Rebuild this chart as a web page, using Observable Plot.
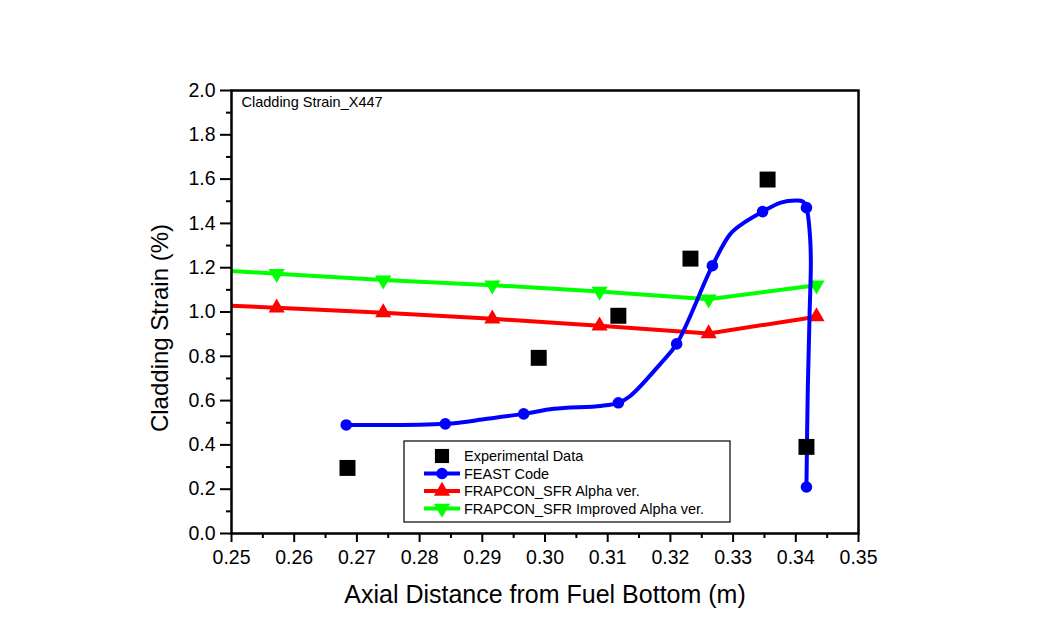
<!DOCTYPE html>
<html>
<head>
<meta charset="utf-8">
<script src="https://cdn.jsdelivr.net/npm/d3@7"></script>
<script src="https://cdn.jsdelivr.net/npm/@observablehq/plot@0.6"></script>
<style>
  html, body { margin: 0; padding: 0; background: #fff; }
  #chart { position: relative; width: 1052px; height: 643px; }
  svg { font-family: "Liberation Sans", Arial, sans-serif; }
</style>
</head>
<body>
<div id="chart"></div>
<script>
// ---- data ----
const expX = [0.2685, 0.2990, 0.3117, 0.3232, 0.3355, 0.3417];
const expY = [0.296, 0.793, 0.983, 1.241, 1.598, 0.391];

const feastX = [0.2683, 0.2841, 0.2908, 0.2966, 0.3014, 0.3089, 0.3117, 0.3136, 0.3184, 0.3210, 0.3267, 0.3296, 0.3320, 0.3347, 0.3376, 0.3400, 0.3411, 0.3417, 0.3422, 0.3424, 0.3422, 0.3419, 0.3417];
const feastY = [0.490, 0.495, 0.518, 0.540, 0.563, 0.576, 0.590, 0.621, 0.766, 0.856, 1.209, 1.354, 1.408, 1.453, 1.494, 1.503, 1.499, 1.471, 1.367, 1.232, 0.992, 0.631, 0.210];
const feastMarked = [0, 1, 3, 6, 9, 10, 13, 17, 22];

const alphaX = [0.2399, 0.2572, 0.2742, 0.2916, 0.3087, 0.3261, 0.3433];
const alphaY = [1.041, 1.019, 0.997, 0.969, 0.938, 0.903, 0.979];

const improvedX = [0.2399, 0.2572, 0.2742, 0.2916, 0.3087, 0.3261, 0.3433];
const improvedY = [1.202, 1.173, 1.144, 1.121, 1.093, 1.058, 1.121];

const xTicks = [0.25, 0.26, 0.27, 0.28, 0.29, 0.30, 0.31, 0.32, 0.33, 0.34, 0.35];
const xMinor = [0.255, 0.265, 0.275, 0.285, 0.295, 0.305, 0.315, 0.325, 0.335, 0.345];
const yTicks = [0.0, 0.2, 0.4, 0.6, 0.8, 1.0, 1.2, 1.4, 1.6, 1.8, 2.0];
const yMinor = [0.1, 0.3, 0.5, 0.7, 0.9, 1.1, 1.3, 1.5, 1.7, 1.9];

const seriesNames = ["Experimental Data", "FEAST Code", "FRAPCON_SFR Alpha ver.", "FRAPCON_SFR Improved Alpha ver."];
const seriesColors = ["#000000", "#0000ff", "#ff0000", "#00ff00"];
const xTitle = "Axial Distance from Fuel Bottom (m)";
const yTitle = "Cladding Strain (%)";
const insetTitle = "Cladding Strain_X447";

// ---- tables ----
const exp = expX.map((x, i) => ({x, y: expY[i]}));
const feast = feastX.map((x, i) => ({x, y: feastY[i]}));
const feastM = feastMarked.map(i => feast[i]);
const alpha = alphaX.map((x, i) => ({x, y: alphaY[i]}));
const improved = improvedX.map((x, i) => ({x, y: improvedY[i]}));

const chart = Plot.plot({
  width: 1052,
  height: 643,
  marginLeft: 231,
  marginRight: 194,
  marginTop: 90,
  marginBottom: 110,
  x: {domain: [0.25, 0.35], label: null},
  y: {domain: [0, 2], label: null},
  style: {fontFamily: "'Liberation Sans', Arial, sans-serif", color: "#000", background: "#fff"},
  marks: [
    Plot.axisX(xTicks, {tickSize: 9, tickPadding: 8, strokeWidth: 2, fontSize: 19.5, tickFormat: d3.format(".2f"), label: null}),
    Plot.axisX(xMinor, {tickSize: 5, strokeWidth: 2, text: null, label: null}),
    Plot.axisY(yTicks, {tickSize: 11, tickPadding: 5, strokeWidth: 2, fontSize: 19.5, tickFormat: d3.format(".1f"), label: null}),
    Plot.axisY(yMinor, {tickSize: 5, strokeWidth: 2, text: null, label: null}),
    // series
    Plot.line(improved, {x: "x", y: "y", stroke: seriesColors[3], strokeWidth: 4, clip: true}),
    Plot.dot(improved, {x: "x", y: "y", symbol: "triangle", rotate: 180, r: 6, fill: seriesColors[3], clip: true}),
    Plot.line(alpha, {x: "x", y: "y", stroke: seriesColors[2], strokeWidth: 4, clip: true}),
    Plot.dot(alpha, {x: "x", y: "y", symbol: "triangle", r: 6, fill: seriesColors[2], clip: true}),
    Plot.line(feast, {x: "x", y: "y", stroke: seriesColors[1], strokeWidth: 4, curve: "catmull-rom"}),
    Plot.dot(feastM, {x: "x", y: "y", symbol: "circle", r: 5.8, fill: seriesColors[1]}),
    Plot.dot(exp, {x: "x", y: "y", symbol: "square", r: 9, fill: seriesColors[0]}),
    Plot.frame({stroke: "#000", strokeWidth: 2.5}),
    // titles
    Plot.text([insetTitle], {frameAnchor: "top-left", dx: 10, dy: 12, textAnchor: "start", lineAnchor: "middle", fontSize: 14.5, fill: "#000"}),
    Plot.text([xTitle], {frameAnchor: "bottom", dy: 61, textAnchor: "middle", lineAnchor: "middle", fontSize: 25, fill: "#000"}),
    Plot.text([yTitle], {frameAnchor: "left", dx: -71, dy: 16, rotate: -90, textAnchor: "middle", lineAnchor: "middle", fontSize: 24, fill: "#000"})
  ]
});

document.getElementById("chart").appendChild(chart);

// ---- legend box (inside the plot area) ----
const svg = d3.select(chart);
const lg = svg.append("g").attr("class", "legend").attr("text-anchor", "start");
const box = {x: 404, y: 441, w: 326, h: 81};
lg.append("rect").attr("x", box.x).attr("y", box.y).attr("width", box.w).attr("height", box.h)
  .attr("fill", "#fff").attr("stroke", "#000").attr("stroke-width", 1.2);
const rowY = [456, 473.5, 491, 508.5];
const symX = 442;
seriesNames.forEach((name, i) => {
  const g = lg.append("g");
  const y = rowY[i];
  if (i > 0) {
    g.append("line").attr("x1", 424).attr("x2", 460).attr("y1", y).attr("y2", y)
      .attr("stroke", seriesColors[i]).attr("stroke-width", 4);
  }
  let sym, size, rot = 0;
  if (i === 0) { sym = d3.symbolSquare; size = 200; }
  else if (i === 1) { sym = d3.symbolCircle; size = Math.PI * 5.8 * 5.8; }
  else { sym = d3.symbolTriangle; size = Math.PI * 6 * 6; if (i === 3) rot = 180; }
  g.append("path").attr("d", d3.symbol(sym, size)())
    .attr("transform", `translate(${symX},${y}) rotate(${rot})`)
    .attr("fill", seriesColors[i]);
  g.append("text").attr("x", 464).attr("y", y).attr("dy", "0.35em")
    .attr("text-anchor", "start")
    .attr("font-size", 14.5).attr("fill", "#000").text(name);
});
</script>
</body>
</html>
